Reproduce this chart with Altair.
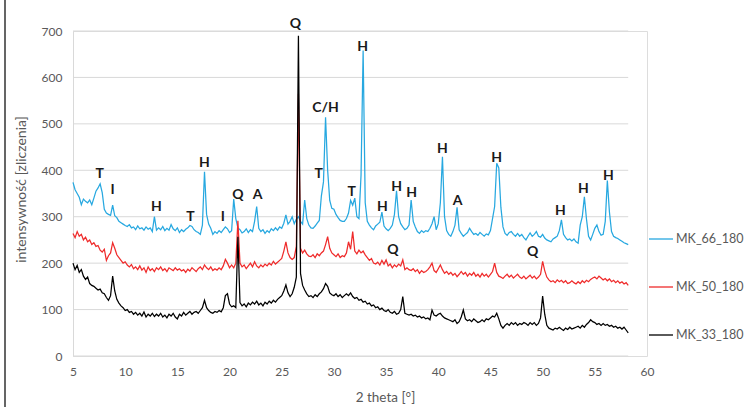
import altair as alt
import pandas as pd

# ---- data ----
X_START = 5.0   # first 2-theta sample
X_STEP = 0.2    # sampling step of the values below

mk66 = [
    374, 358, 350, 342, 326, 338, 333, 330, 336, 326,   # 5.0-6.8
    340, 355, 362, 371, 352, 316, 308, 305, 303, 325,   # 7.0-8.8
    302, 298, 290, 287, 284, 281, 279, 283, 276, 278,   # 9.0-10.8
    272, 280, 274, 276, 271, 278, 273, 276, 268, 300,   # 11.0-12.8
    271, 276, 272, 279, 270, 275, 271, 283, 274, 270,   # 13.0-14.8
    276, 266, 272, 268, 273, 276, 281, 279, 272, 268,   # 15.0-16.8
    266, 262, 282, 397, 305, 284, 275, 262, 268, 264,   # 17.0-18.8
    270, 266, 272, 278, 274, 266, 270, 338, 296, 276,   # 19.0-20.8
    272, 265, 268, 274, 266, 272, 268, 290, 322, 275,   # 21.0-22.8
    268, 272, 264, 270, 266, 274, 270, 276, 271, 278,   # 23.0-24.8
    275, 286, 304, 284, 290, 300, 285, 295, 300, 290,   # 25.0-26.8
    284, 336, 296, 282, 276, 275, 280, 286, 292, 345,   # 27.0-28.8
    375, 514, 400, 335, 318, 316, 305, 298, 292, 290,   # 29.0-30.8
    290, 296, 308, 335, 325, 340, 300, 296, 390, 658,   # 31.0-32.8
    330, 290, 282, 276, 272, 280, 284, 288, 310, 280,   # 33.0-34.8
    274, 270, 275, 282, 305, 356, 300, 285, 278, 272,   # 35.0-36.8
    275, 282, 336, 290, 278, 268, 264, 270, 266, 270,   # 37.0-38.8
    268, 275, 285, 300, 272, 285, 330, 429, 300, 270,   # 39.0-40.8
    262, 258, 268, 282, 320, 272, 264, 258, 262, 266,   # 41.0-42.8
    275, 268, 262, 264, 260, 266, 262, 258, 263, 261,   # 43.0-44.8
    270, 296, 322, 415, 405, 320, 278, 264, 260, 266,   # 45.0-46.8
    268, 262, 258, 264, 258, 262, 255, 250, 258, 265,   # 47.0-48.8
    258, 262, 268, 258, 256, 262, 254, 250, 248, 246,   # 49.0-50.8
    252, 255, 258, 270, 293, 262, 255, 250, 252, 248,   # 51.0-52.8
    252, 246, 243, 282, 300, 343, 295, 258, 250, 262,   # 53.0-54.8
    275, 282, 268, 260, 262, 290, 378, 310, 268, 258,   # 55.0-56.8
    255, 253, 250, 247, 244, 242, 240,                  # 57.0-58.2
]

mk50 = [
    264, 255, 268, 258, 262, 250, 256, 246, 250, 240,
    244, 236, 238, 228, 224, 230, 206, 216, 222, 244,
    232, 218, 212, 206, 200, 203, 196, 192, 197, 188,
    192, 186, 194, 185, 190, 180, 192, 184, 188, 182,
    190, 186, 192, 184, 188, 182, 190, 187, 184, 190,
    185, 188, 183, 186, 180, 187, 183, 190, 186, 182,
    188, 192, 186, 196, 190, 186, 192, 184, 188, 185,
    190, 186, 194, 208, 200, 190, 196, 190, 200, 291,
    200, 192, 196, 188, 194, 200, 192, 203, 194, 190,
    196, 192, 198, 194, 200, 196, 204, 198, 202, 206,
    210, 226, 246, 222, 212, 208, 212, 236, 565, 232,
    222, 228, 220, 215, 214, 218, 212, 220, 216, 222,
    226, 240, 257, 232, 222, 218, 214, 220, 212, 216,
    214, 222, 246, 230, 268, 226, 220, 228, 222, 226,
    218, 212, 206, 210, 200, 198, 202, 196, 206, 198,
    207, 194, 198, 190, 196, 192, 198, 194, 207, 186,
    190, 186, 184, 188, 182, 186, 178, 184, 180, 182,
    186, 192, 200, 184, 180, 188, 196, 186, 178, 182,
    176, 180, 174, 178, 171, 176, 182, 176, 180, 172,
    178, 174, 180, 172, 176, 170, 178, 172, 176, 170,
    176, 182, 200, 180, 172, 170, 167, 172, 176, 170,
    174, 168, 172, 176, 170, 167, 172, 166, 170, 174,
    168, 172, 166, 170, 176, 204, 184, 170, 164, 160,
    162, 158, 164, 160, 163, 158, 162, 156, 158, 162,
    158, 155, 160, 156, 162, 158, 163, 160, 165, 168,
    170, 166, 172, 168, 164, 167, 162, 166, 160, 163,
    158, 162, 157, 160, 155, 158, 152,
]

mk33 = [
    200, 186, 195, 180, 186, 172, 165, 170, 156, 152,
    150, 146, 142, 144, 136, 134, 126, 120, 130, 172,
    140, 122, 114, 108, 104, 98, 100, 94, 96, 90,
    94, 88, 92, 86, 95, 84, 90, 86, 92, 85,
    90, 86, 92, 84, 88, 82, 90, 86, 92, 84,
    80, 90, 86, 94, 88, 92, 96, 90, 94, 96,
    92, 98, 104, 120, 104, 98, 94, 92, 96, 94,
    98, 95, 104, 130, 134, 112, 106, 108, 104, 257,
    115, 108, 112, 106, 114, 110, 116, 112, 118, 110,
    114, 108, 116, 112, 118, 114, 120, 116, 122, 126,
    130, 140, 153, 136, 128, 134, 148, 170, 690, 178,
    152, 142, 134, 128, 130, 126, 132, 128, 134, 138,
    145, 156, 150, 136, 132, 130, 134, 128, 132, 126,
    130, 134, 130, 136, 128, 124, 126, 120, 122, 116,
    118, 112, 114, 108, 110, 104, 106, 100, 103, 98,
    96, 100, 94, 92, 96, 90, 92, 100, 128, 92,
    90, 88, 90, 86, 88, 84, 86, 82, 84, 80,
    82, 78, 99, 88, 86, 90, 92, 86, 82, 80,
    78, 76, 74, 78, 70, 74, 84, 99, 80, 76,
    78, 74, 80, 76, 72, 74, 78, 74, 80, 78,
    82, 86, 84, 92, 80, 66, 60, 66, 70, 66,
    72, 68, 72, 66, 70, 68, 72, 70, 66, 72,
    68, 72, 66, 70, 82, 129, 90, 66, 60, 58,
    56, 60, 58, 62, 58, 55, 60, 57, 62, 58,
    60, 62, 64, 60, 66, 62, 68, 72, 78, 74,
    72, 68, 70, 66, 70, 66, 68, 64, 66, 62,
    64, 60, 62, 58, 62, 56, 50,
]

series_names = ["MK_66_180", "MK_50_180", "MK_33_180"]
series_colors = ["#27a8e0", "#ef2b2b", "#000000"]

ann_text = ["T", "I", "H", "T", "H", "I", "Q", "A", "Q", "T", "C/H", "T", "H",
            "H", "H", "H", "H", "A", "H", "H", "H", "H", "Q", "Q"]
ann_x = [7.55, 8.8, 13.0, 16.25, 17.6, 19.35, 20.8, 22.7, 26.3, 28.55, 29.2, 31.7, 32.75,
         34.65, 36.0, 37.45, 40.4, 41.85, 45.6, 51.7, 53.9, 56.3, 35.65, 49.05]
ann_y = [392, 358, 321, 300, 415, 300, 347, 347, 715, 392, 534, 353, 666,
         321, 364, 351, 446, 334, 426, 312, 360, 388, 228, 224]

x_ticks = [5, 10, 15, 20, 25, 30, 35, 40, 45, 50, 55, 60]
y_ticks = [0, 100, 200, 300, 400, 500, 600, 700]
x_data_end = 58.2

# ---- tables ----
rows = []
for name, vals in zip(series_names, [mk66, mk50, mk33]):
    for i, v in enumerate(vals):
        rows.append({"theta": round(X_START + X_STEP * i, 1), "intensity": v, "series": name})
df = pd.DataFrame(rows)
grid_df = pd.DataFrame({"y": y_ticks, "x0": [X_START] * len(y_ticks), "x1": [x_data_end] * len(y_ticks)})
ann_df = pd.DataFrame({"t": ann_text, "x": ann_x, "y": ann_y})

FONT = "Lato"
GRAY = "#595959"
xscale = alt.Scale(domain=[5, 60], nice=False, zero=False)
yscale = alt.Scale(domain=[0, 700], nice=False)

XA = alt.Axis(values=x_ticks, title="2 theta [°]", grid=False, domain=False, ticks=False,
              labelPadding=10, labelFlush=False, labelFont=FONT, labelFontSize=12,
              labelColor=GRAY, titleFont=FONT, titleFontSize=13.5, titleFontWeight="normal",
              titleColor=GRAY, titleX=312, titleY=41, titleBaseline="middle", titleAlign="center")
YA = alt.Axis(values=y_ticks, title="intensywność [zliczenia]", grid=False, domain=True,
              domainColor="#d9d9d9", ticks=False, labelPadding=11, labelFont=FONT,
              labelFontSize=12, labelColor=GRAY, titleFont=FONT, titleFontSize=14,
              titleFontWeight="normal", titleColor=GRAY, titleX=-52, titleY=158,
              titleBaseline="middle", titleAlign="center")

color = alt.Color(
    "series:N",
    scale=alt.Scale(domain=series_names, range=series_colors),
    legend=alt.Legend(
        title=None, orient="none", legendX=575, legendY=195,
        symbolType="stroke", symbolSize=576, symbolStrokeWidth=1.3,
        rowPadding=28, labelFont=FONT, labelFontSize=12.5, labelColor=GRAY, labelOffset=2,
    ),
)

grid = alt.Chart(grid_df).mark_rule(color="#d9d9d9", strokeWidth=1).encode(
    x=alt.X("x0:Q", scale=xscale, axis=XA, title="2 theta [°]"),
    x2="x1:Q",
    y=alt.Y("y:Q", scale=yscale, axis=YA, title="intensywność [zliczenia]"),
)

def line(name):
    return alt.Chart(df).transform_filter(alt.datum.series == name).mark_line(strokeWidth=1.25).encode(
        x=alt.X("theta:Q", scale=xscale, axis=XA, title="2 theta [°]"),
        y=alt.Y("intensity:Q", scale=yscale, axis=YA, title="intensywność [zliczenia]"),
        color=color,
        order="theta:Q",
    )

labels = alt.Chart(ann_df).mark_text(font=FONT, fontWeight="bold", fontSize=14, color="#1a1a1a",
                                     baseline="middle", align="center").encode(
    x=alt.X("x:Q", scale=xscale, axis=XA, title="2 theta [°]"),
    y=alt.Y("y:Q", scale=yscale, axis=YA, title="intensywność [zliczenia]"),
    text="t:N",
)

frame = alt.Chart(grid_df).mark_rule(color="#666666", strokeWidth=1.5).encode(
    x=alt.value(-68), y=alt.value(-31), y2=alt.value(376)
)

chart = alt.layer(grid, line(series_names[0]), line(series_names[1]),
                  line(series_names[2]), labels, frame).properties(
    width=574, height=325,
    autosize=alt.AutoSizeParams(type="none"),
    padding={"left": 73, "top": 31, "right": 97, "bottom": 51},
).configure_view(stroke=None).configure(background="white")

chart.save("out.html", embed_options={"renderer": "svg", "actions": False})
